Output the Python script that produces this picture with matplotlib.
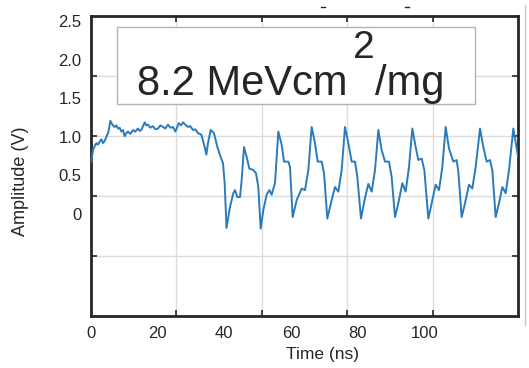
import matplotlib
matplotlib.use("Agg")
import matplotlib.pyplot as plt
import numpy as np
from matplotlib.patches import Rectangle
from matplotlib.lines import Line2D

plt.rcParams["font.family"] = ["Liberation Sans", "DejaVu Sans"]

# waveform (time in ns, amplitude in V)
time_ns = [0.1, 0.6, 1.1, 1.6, 2.1, 2.6, 3.1, 3.6, 4.1, 4.6, 5.2, 5.8, 6.4, 7.1, 7.6, 8.1, 8.6,
           9.1, 9.6, 10.1, 10.6, 11.1, 11.8, 12.6, 13.3, 14.1, 14.6, 15.1, 15.6, 16.1, 16.6,
           17.1, 17.8, 18.6, 19.3, 20.1, 20.8, 21.6, 22.3, 23.1, 23.8, 24.6, 25.3, 25.8, 26.3,
           27.0, 27.6, 28.3, 29.1, 29.8, 30.6, 31.3, 32.1, 33.1,
           34.1, 34.6, 35.1, 35.9, 36.9, 37.9, 38.9, 39.6, 40.1, 40.65, 41.7, 42.7, 43.2, 43.9,
           44.7, 45.2, 45.9, 46.7, 47.5, 48.7, 49.5, 50.2, 50.9, 51.7, 52.7, 53.5, 54.2, 55.2,
           56.2, 57.2, 57.9, 59.2, 59.7, 60.5, 61.7, 63.2, 64.2, 65.2, 66.2, 67.2, 68.0, 69.2,
           69.9, 70.9, 72.2, 73.2, 74.2, 75.2, 76.2, 77.2, 78.2, 79.2, 79.9, 81.0, 82.2, 83.2,
           84.2, 85.2, 86.2, 87.2, 88.2, 89.4, 90.2, 91.2, 92.2, 93.4, 94.4, 95.4, 96.4, 97.4,
           98.2, 99.2, 100.0, 101.2, 102.2, 103.4, 104.4, 105.4, 106.4, 107.4, 108.7, 109.7,
           110.2, 111.2, 112.2, 113.4, 114.4, 115.4, 116.7, 117.7, 118.7, 119.7, 120.4, 121.4,
           122.4, 123.4, 124.4, 125.4, 126.7, 127.7, 128.1]
amp_v = [0.68, 0.83, 0.88, 0.92, 0.90, 0.94, 0.97, 0.92, 0.95, 1.00, 1.06, 1.21, 1.16, 1.13, 1.15,
         1.11, 1.12, 1.07, 1.09, 1.01, 1.05, 1.07, 1.04, 1.09, 1.07, 1.11, 1.08, 1.09, 1.14,
         1.19, 1.15, 1.16, 1.12, 1.14, 1.10, 1.11, 1.15, 1.13, 1.11, 1.16, 1.12, 1.13, 1.07,
         1.12, 1.18, 1.15, 1.19, 1.16, 1.13, 1.14, 1.09, 1.10, 1.05, 1.03,
         0.87, 0.77, 0.92, 1.09, 1.05, 0.87, 0.74, 0.66, 0.40, -0.18, 0.09, 0.27, 0.31, 0.22,
         0.22, 0.44, 0.87, 0.74, 0.59, 0.57, 0.53, 0.35, -0.19, 0.05, 0.25, 0.31, 0.25, 0.40,
         1.07, 0.90, 0.68, 0.68, 0.61, -0.04, 0.18, 0.33, 0.31, 0.57, 1.13, 0.92, 0.68, 0.68,
         0.53, -0.06, 0.18, 0.35, 0.29, 0.57, 1.13, 0.92, 0.68, 0.68, 0.48, -0.06, 0.21, 0.39,
         0.29, 0.57, 1.09, 0.83, 0.68, 0.68, 0.48, -0.04, 0.14, 0.40, 0.29, 0.61, 1.11, 0.87,
         0.70, 0.72, 0.57, -0.06, 0.14, 0.38, 0.31, 0.61, 1.13, 0.85, 0.68, 0.70,
         0.55, -0.04, 0.14, 0.38, 0.33, 0.61, 1.11, 0.87, 0.68, 0.70, 0.57, -0.04,
         0.14, 0.35, 0.27, 0.57, 1.11, 0.85, 0.75]

x_ticks = [0, 20, 40, 60, 80, 100]
x_tick_labels = ["0", "20", "40", "60", "80", "100"]
y_ticks = [0, 0.5, 1.0, 1.5, 2.0, 2.5]
y_tick_labels = ["0", "0.5", "1.0", "1.5", "2.0", "2.5"]

dark = "#262626"
line_color = "#2a7bbd"

fig = plt.figure(figsize=(5.29, 3.68), dpi=100)
ax = fig.add_axes([91 / 529, 1 - 316 / 368, 427 / 529, 300 / 368])

ax.plot(time_ns, amp_v, color=line_color, lw=1.4, zorder=3)

x0, x1 = 0, 128.1
y0, y1 = -1.325, 2.571
ax.set_xlim(x0, x1)
ax.set_ylim(y0, y1)

# grid / tick marks split the box in fifths, labels sit elsewhere
ax.set_xticks(np.linspace(x0, x1, 6)[1:-1])
ax.set_yticks(np.linspace(y0, y1, 6)[1:-1])
ax.tick_params(which="major", direction="in", length=4, width=1.2, color=dark,
               top=True, right=True, labelbottom=False, labelleft=False)
ax.grid(True, which="major", color="#dcdcdc", lw=1.0)

ax.set_xticks(x_ticks, labels=x_tick_labels, minor=True)
ax.set_yticks(y_ticks, labels=y_tick_labels, minor=True)
ax.tick_params(which="minor", length=0, labelsize=12, labelcolor=dark, pad=7)

for s in ax.spines.values():
    s.set_color(dark)
    s.set_linewidth(2.0)

# annotation box
ax.add_patch(Rectangle((0.061, 0.707), 0.838, 0.256, transform=ax.transAxes,
                       facecolor="white", edgecolor="#b4b4b4", lw=1.0, zorder=4))
ax.text(0.108, 0.737, "8.2 MeVcm", transform=ax.transAxes, fontsize=30,
        color=dark, ha="left", va="baseline", zorder=5)
ax.text(0.614, 0.86, "2", transform=ax.transAxes, fontsize=28,
        color=dark, ha="left", va="baseline", zorder=5)
ax.text(0.665, 0.737, "/mg", transform=ax.transAxes, fontsize=30,
        color=dark, ha="left", va="baseline", zorder=5)

fig.text(21 / 529, 1 - 181 / 368, "Amplitude (V)", rotation=90, ha="center", va="center",
         fontsize=13, color=dark)
fig.text(323 / 529, 1 - 354 / 368, "Time (ns)", ha="center", va="center",
         fontsize=12.5, color=dark)

# leftover marks at the edges of the original crop
fig.add_artist(Line2D([525 / 529, 525 / 529], [1 - 5 / 368, 1 - 325 / 368],
                      color="#c8c8c8", lw=1.0))
for xc in (323, 407):
    fig.add_artist(Line2D([(xc - 2) / 529, (xc + 2) / 529], [1 - 7 / 368, 1 - 7 / 368],
                          color=dark, lw=1.0))

fig.savefig("out.png", dpi=100)
